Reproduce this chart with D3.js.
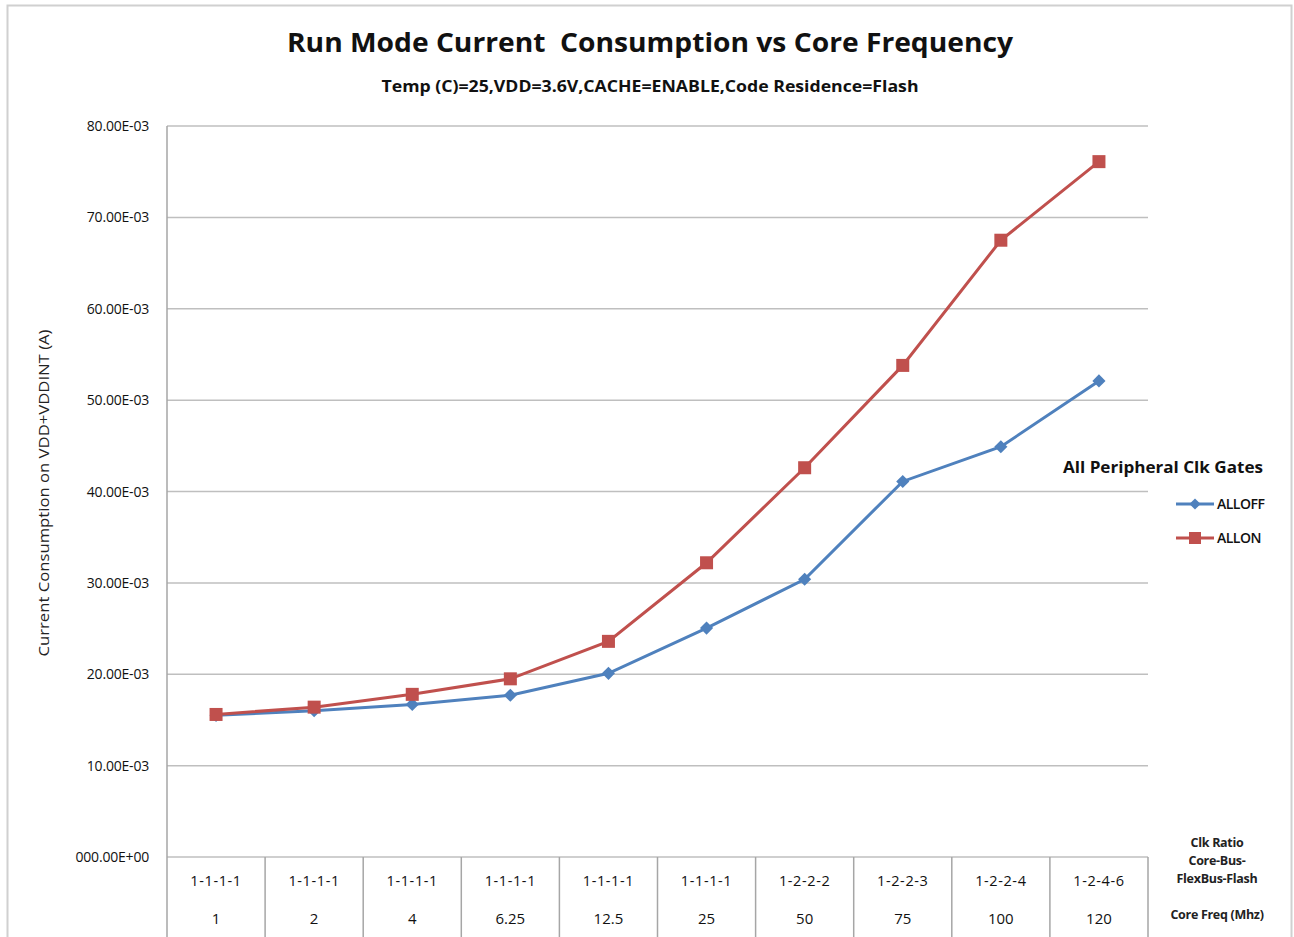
<!DOCTYPE html>
<html><head><meta charset="utf-8">
<script src="https://cdn.jsdelivr.net/npm/d3@7"></script>
<style>body{margin:0;background:#fff;} text{font-family:"Open Sans",Lato,sans-serif;}</style>
</head><body>
<svg id="c" width="1294" height="937"></svg>
<script>
const ratios = ["1-1-1-1","1-1-1-1","1-1-1-1","1-1-1-1","1-1-1-1","1-1-1-1","1-2-2-2","1-2-2-3","1-2-2-4","1-2-4-6"];
const freqs = ["1","2","4","6.25","12.5","25","50","75","100","120"];
const allOff = [15.5,16.0,16.7,17.7,20.1,25.05,30.4,41.1,44.9,52.1];
const allOn  = [15.6,16.4,17.8,19.5,23.6,32.2,42.6,53.8,67.5,76.1];
const yTicks = [0,10,20,30,40,50,60,70,80];

const svg = d3.select("#c");
const L=167,R=1148,T=126,B=857;
// frame
svg.append("rect").attr("x",7.5).attr("y",5.5).attr("width",1284).attr("height",940).attr("fill","none").attr("stroke","#d0d0d0").attr("stroke-width",2);

const x = d3.scaleBand().domain(d3.range(freqs.length)).range([L,R]);
const y = d3.scaleLinear().domain([0,80]).range([B,T]);

// gridlines
svg.append("g").selectAll("line").data(yTicks).join("line")
  .attr("x1",L).attr("x2",R).attr("y1",d=>y(d)).attr("y2",d=>y(d))
  .attr("stroke","#bfbfbf").attr("stroke-width",1.5);
// y labels
const fmt = d=> d===0 ? "000.00E+00" : (d.toFixed(2)+"E-03");
svg.append("g").selectAll("text").data(yTicks).join("text")
  .attr("x",149).attr("y",d=>y(d)+5).attr("text-anchor","end")
  .attr("font-size",14).attr("fill","#111").attr("letter-spacing",-0.2).text(fmt);
// left axis line
svg.append("line").attr("x1",L).attr("x2",L).attr("y1",T).attr("y2",937).attr("stroke","#a6a6a6").attr("stroke-width",1.5);
// category dividers
svg.append("g").selectAll("line").data(d3.range(1,freqs.length+1)).join("line")
  .attr("x1",d=>x.step()*d+L).attr("x2",d=>x.step()*d+L).attr("y1",B).attr("y2",937)
  .attr("stroke","#a6a6a6").attr("stroke-width",1.5);
// category labels
svg.append("g").selectAll("text").data(ratios).join("text")
  .attr("x",(d,i)=>x(i)+x.bandwidth()/2).attr("y",886).attr("text-anchor","middle")
  .attr("font-size",14.5).attr("letter-spacing",0.6).attr("fill","#111").text(d=>d);
svg.append("g").selectAll("text").data(freqs).join("text")
  .attr("x",(d,i)=>x(i)+x.bandwidth()/2).attr("y",924).attr("text-anchor","middle")
  .attr("font-size",15).attr("fill","#111").text(d=>d);
// right labels
const rl=[["Clk Ratio",847],["Core-Bus-",865],["FlexBus-Flash",883],["Core Freq (Mhz)",919]];
svg.append("g").selectAll("text").data(rl).join("text")
  .attr("x",1217).attr("y",d=>d[1]).attr("text-anchor","middle").attr("font-size",12.5).attr("font-weight","bold").attr("letter-spacing",-0.3).attr("fill","#222").text(d=>d[0]);

// lines
const cx = i=>x(i)+x.bandwidth()/2;
const line = d3.line().x((d,i)=>cx(i)).y(d=>y(d));
svg.append("path").datum(allOff).attr("d",line).attr("fill","none").attr("stroke","#4f81bd").attr("stroke-width",3);
svg.append("path").datum(allOn).attr("d",line).attr("fill","none").attr("stroke","#c0504d").attr("stroke-width",3);
const diamond = d3.symbol().type(d3.symbolDiamond2).size(110);
svg.append("g").selectAll("path").data(allOff).join("path")
  .attr("transform",(d,i)=>`translate(${cx(i)},${y(d)})`).attr("d",diamond).attr("fill","#4f81bd");
svg.append("g").selectAll("rect").data(allOn).join("rect")
  .attr("x",(d,i)=>cx(i)-6.5).attr("y",d=>y(d)-6.5).attr("width",13).attr("height",13).attr("fill","#c0504d");

// titles
svg.append("text").attr("x",650).attr("y",52).attr("text-anchor","middle").attr("font-size",27).attr("font-weight","bold").attr("fill","#111").attr("textLength",726).attr("lengthAdjust","spacingAndGlyphs").style("white-space","pre").text("Run Mode Current  Consumption vs Core Frequency");
svg.append("text").attr("x",650).attr("y",92).attr("text-anchor","middle").attr("font-size",16).attr("font-weight","bold").attr("fill","#111").attr("textLength",537).attr("lengthAdjust","spacingAndGlyphs").text("Temp (C)=25,VDD=3.6V,CACHE=ENABLE,Code Residence=Flash");
// y title
svg.append("text").attr("transform","translate(49,493) rotate(-90)").attr("text-anchor","middle").attr("font-size",14.5).attr("fill","#222").attr("textLength",327).attr("lengthAdjust","spacingAndGlyphs").text("Current Consumption on VDD+VDDINT (A)");

// legend
svg.append("text").attr("x",1163).attr("y",473).attr("text-anchor","middle").attr("font-size",16.5).attr("font-weight","bold").attr("fill","#111").attr("textLength",200).attr("lengthAdjust","spacingAndGlyphs").text("All Peripheral Clk Gates");
const leg=[["ALLOFF","#4f81bd",504,"d"],["ALLON","#c0504d",538,"s"]];
leg.forEach(l=>{
  svg.append("line").attr("x1",1176).attr("x2",1214).attr("y1",l[2]).attr("y2",l[2]).attr("stroke",l[1]).attr("stroke-width",3);
  if(l[3]==="d") svg.append("path").attr("transform",`translate(1195,${l[2]})`).attr("d",d3.symbol().type(d3.symbolDiamond2).size(80)).attr("fill",l[1]);
  else svg.append("rect").attr("x",1189).attr("y",l[2]-6).attr("width",12).attr("height",12).attr("fill",l[1]);
  svg.append("text").attr("x",1217).attr("y",l[2]+5).attr("font-size",14).attr("font-weight",600).attr("letter-spacing",-0.5).attr("fill","#111").text(l[0]);
});
</script>
</body></html>
